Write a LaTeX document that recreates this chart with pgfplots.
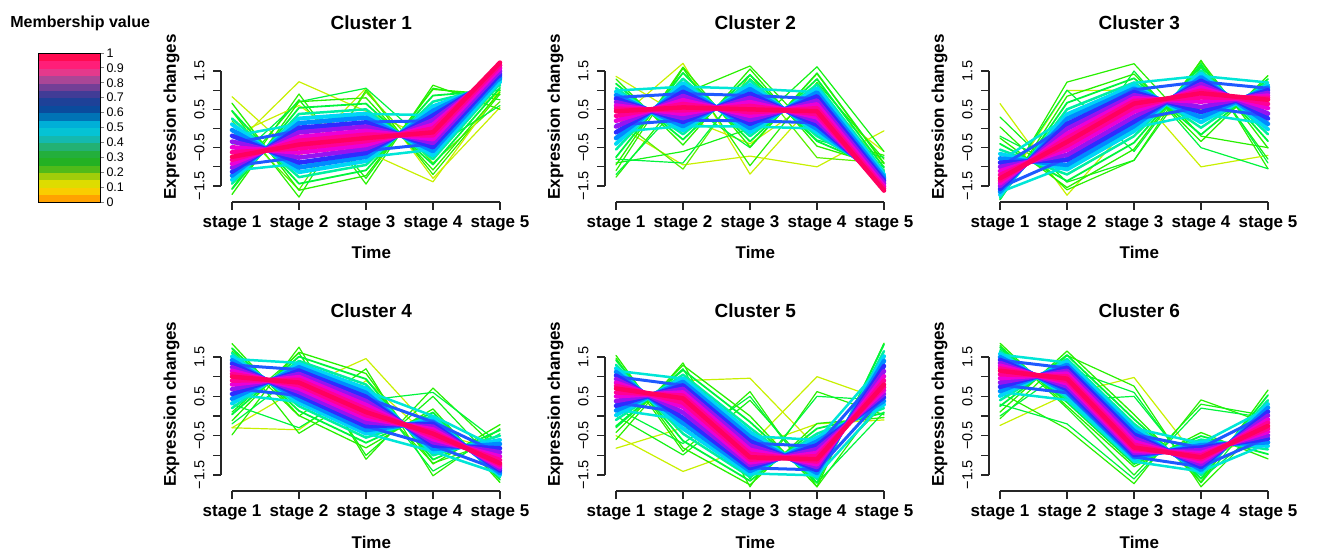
\documentclass[border=0pt]{standalone}
\usepackage{pgfplots}
\pgfplotsset{compat=1.18}
\usepackage{fontspec}
\setmainfont{Liberation Sans}

% line colours by membership
\definecolor{m100}{RGB}{255,0,95}
\definecolor{m95}{RGB}{255,0,150}
\definecolor{m88}{RGB}{235,0,215}
\definecolor{m78}{RGB}{150,20,240}
\definecolor{m65}{RGB}{45,45,255}
\definecolor{m60}{RGB}{30,90,255}
\definecolor{m55}{RGB}{0,140,255}
\definecolor{m45}{RGB}{0,215,245}
\definecolor{m42}{RGB}{0,230,215}
\definecolor{m38}{RGB}{0,240,160}
\definecolor{m30}{RGB}{0,245,60}
\definecolor{m28}{RGB}{20,242,20}
\definecolor{m25}{RGB}{40,240,0}
\definecolor{m22}{RGB}{90,240,0}
\definecolor{m12}{RGB}{200,240,0}

\pgfplotsset{
  every axis title shift=0pt,
  colormap={memb}{rgb255(0)=(255,140,0) rgb255(1)=(255,185,0) rgb255(2)=(245,225,0)
    rgb255(3)=(200,215,0) rgb255(4)=(120,195,20) rgb255(5)=(40,180,30) rgb255(6)=(30,175,40)
    rgb255(7)=(40,175,80) rgb255(8)=(30,180,150) rgb255(9)=(10,190,200) rgb255(10)=(0,200,225)
    rgb255(11)=(0,150,205) rgb255(12)=(0,80,160) rgb255(13)=(20,70,155) rgb255(14)=(40,60,150)
    rgb255(15)=(90,60,150) rgb255(16)=(140,65,150) rgb255(17)=(200,75,150) rgb255(18)=(255,40,130)
    rgb255(19)=(255,20,110) rgb255(20)=(255,0,50)},
  panel/.style={
    scale only axis, width=268pt,
    xmin=1, xmax=5, ymin=-1.5, ymax=1.5, clip=false,
    axis x line*=bottom, axis y line*=left,
    axis x line shift=16pt, axis y line shift=11pt,
    axis line style={line width=1.1pt, black!85},
    tick style={line width=1.1pt, black!85},
    tick align=outside, major tick length=8pt,
    xtick={1,2,3,4,5},
    xticklabels={stage 1,stage 2,stage 3,stage 4,stage 5},
    ytick={-1.5,-1,-0.5,0,0.5,1,1.5},
    yticklabels={−1.5,,−0.5,,0.5,,1.5},
    xticklabel style={font=\fontsize{17}{17}\selectfont\bfseries, yshift=-2pt},
    yticklabel style={font=\fontsize{14.5}{14.5}\selectfont, xshift=-5pt, rotate=90, anchor=south},
    xlabel={Time}, ylabel={Expression changes},
    label style={font=\fontsize{17}{17}\selectfont\bfseries},
    title style={font=\fontsize{19}{19}\selectfont\bfseries, anchor=center},
    ylabel style={at={(axis description cs:-0.226,0.6)}, anchor=center},
    no markers,
    every axis plot/.append style={line join=round, line cap=round},
  },
  toprow/.style={height=115pt,
    xlabel style={at={(axis description cs:0.52,-0.58)}, anchor=center},
    title style={at={(axis description cs:0.52,1.42)}}},
  botrow/.style={height=118pt,
    xlabel style={at={(axis description cs:0.52,-0.57)}, anchor=center},
    title style={at={(axis description cs:0.52,1.39)}}},
  q0/.style={draw=m100, line width=4.5pt},
  q12/.style={draw=m95, line width=4.5pt},
  q25/.style={draw=m88, line width=4.5pt},
  q40/.style={draw=m78, line width=4.5pt},
  q55/.style={draw=m65, line width=4.5pt},
  q70/.style={draw=m55, line width=4.5pt},
  q85/.style={draw=m45, line width=4pt},
  q100/.style={draw=m38, line width=2.5pt},
  g120/.style={draw=m30, line width=1.8pt},
  g140/.style={draw=m25, line width=1.3pt},
  v90/.style={draw=m42, line width=2.5pt},
  v60/.style={draw=m60, line width=3pt},
  o12/.style={draw=m12, line width=1.2pt},
  o22/.style={draw=m22, line width=1.2pt},
  o25/.style={draw=m25, line width=1.2pt},
  o28/.style={draw=m28, line width=1.2pt},
  o30/.style={draw=m30, line width=1.2pt},
}

\begin{document}
\begin{tikzpicture}[x=1pt,y=1pt]
\useasboundingbox (0,0) rectangle (1320,552);

% membership colour key
\begin{axis}[at={(38pt,350pt)}, anchor=south west, scale only axis,
  width=62pt, height=149pt, xmin=0, xmax=1, ymin=0, ymax=1, axis on top,
  colormap name=memb, point meta min=0, point meta max=1,
  xtick=\empty, ytick={0,0.1,0.2,0.3,0.4,0.5,0.6,0.7,0.8,0.9,1},
  yticklabels={0,0.1,0.2,0.3,0.4,0.5,0.6,0.7,0.8,0.9,1},
  ytick pos=right, yticklabel pos=right, tick align=outside, major tick length=4pt,
  axis line style={line width=0.8pt}, tick style={line width=0.8pt},
  yticklabel style={font=\fontsize{12.5}{12.5}\selectfont, xshift=-1pt},
  title={Membership value},
  title style={font=\fontsize{16}{16}\selectfont\bfseries, at={(axis description cs:0.68,1.2)}, anchor=center}]
\addplot[matrix plot*, mesh/cols=2, point meta=explicit] coordinates {
(0.25,0.025)[0.025] (0.75,0.025)[0.025]
(0.25,0.075)[0.075] (0.75,0.075)[0.075]
(0.25,0.125)[0.125] (0.75,0.125)[0.125]
(0.25,0.175)[0.175] (0.75,0.175)[0.175]
(0.25,0.225)[0.225] (0.75,0.225)[0.225]
(0.25,0.275)[0.275] (0.75,0.275)[0.275]
(0.25,0.325)[0.325] (0.75,0.325)[0.325]
(0.25,0.375)[0.375] (0.75,0.375)[0.375]
(0.25,0.425)[0.425] (0.75,0.425)[0.425]
(0.25,0.475)[0.475] (0.75,0.475)[0.475]
(0.25,0.525)[0.525] (0.75,0.525)[0.525]
(0.25,0.575)[0.575] (0.75,0.575)[0.575]
(0.25,0.625)[0.625] (0.75,0.625)[0.625]
(0.25,0.675)[0.675] (0.75,0.675)[0.675]
(0.25,0.725)[0.725] (0.75,0.725)[0.725]
(0.25,0.775)[0.775] (0.75,0.775)[0.775]
(0.25,0.825)[0.825] (0.75,0.825)[0.825]
(0.25,0.875)[0.875] (0.75,0.875)[0.875]
(0.25,0.925)[0.925] (0.75,0.925)[0.925]
(0.25,0.975)[0.975] (0.75,0.975)[0.975]
};
\end{axis}

% Cluster 1
\begin{axis}[panel, toprow, at={(232pt,366pt)}, anchor=south west, title={Cluster 1}]
\addplot[o12] coordinates {(1,0.83)(2,-0.75)(3,1.05)(4,-1.30)(5,0.55)};
\addplot[o12] coordinates {(1,-0.50)(2,1.22)(3,0.45)(4,-0.30)(5,0.95)};
\addplot[o25] coordinates {(1,0.45)(2,-1.79)(3,1.00)(4,-1.20)(5,0.90)};
\addplot[o25] coordinates {(1,-1.57)(2,0.90)(3,-1.45)(4,1.13)(5,0.50)};
\addplot[o22] coordinates {(1,0.20)(2,-1.60)(3,0.95)(4,-0.90)(5,0.70)};
\addplot[o28] coordinates {(1,-1.30)(2,0.75)(3,-1.30)(4,1.05)(5,0.75)};
\addplot[o12] coordinates {(1,-0.20)(2,0.60)(3,-0.60)(4,-1.39)(5,1.00)};
\addplot[o30] coordinates {(1,-0.90)(2,0.70)(3,1.05)(4,-0.50)(5,0.60)};
\addplot[g140] coordinates {(1,0.66)(2,-1.61)(3,-1.23)(4,1.02)(5,0.88)};
\addplot[g140] coordinates {(1,-1.72)(2,0.70)(3,0.80)(4,-1.08)(5,0.95)};
\addplot[g120] coordinates {(1,0.46)(2,-1.44)(3,-1.09)(4,0.86)(5,1.00)};
\addplot[g120] coordinates {(1,-1.58)(2,0.54)(3,0.65)(4,-0.94)(5,1.06)};
\addplot[q100] coordinates {(1,0.26)(2,-1.27)(3,-0.95)(4,0.70)(5,1.12)};
\addplot[q100] coordinates {(1,-1.44)(2,0.38)(3,0.50)(4,-0.80)(5,1.17)};
\addplot[v90] coordinates {(1,-0.20)(2,0.12)(3,0.38)(4,0.35)(5,1.36)};
\addplot[v90] coordinates {(1,-1.10)(2,-0.92)(3,-0.75)(4,-0.55)(5,1.45)};
\addplot[q85] coordinates {(1,0.11)(2,-1.14)(3,-0.85)(4,0.58)(5,1.21)};
\addplot[q85] coordinates {(1,-1.34)(2,0.26)(3,0.39)(4,-0.70)(5,1.25)};
\addplot[q70] coordinates {(1,-0.04)(2,-1.02)(3,-0.74)(4,0.46)(5,1.30)};
\addplot[q70] coordinates {(1,-1.23)(2,0.14)(3,0.28)(4,-0.59)(5,1.34)};
\addplot[v60] coordinates {(1,-0.38)(2,-0.06)(3,0.17)(4,0.20)(5,1.48)};
\addplot[v60] coordinates {(1,-0.98)(2,-0.75)(3,-0.58)(4,-0.40)(5,1.54)};
\addplot[q55] coordinates {(1,-0.19)(2,-0.89)(3,-0.64)(4,0.34)(5,1.39)};
\addplot[q55] coordinates {(1,-1.13)(2,0.02)(3,0.16)(4,-0.49)(5,1.42)};
\addplot[q40] coordinates {(1,-0.34)(2,-0.76)(3,-0.53)(4,0.22)(5,1.48)};
\addplot[q40] coordinates {(1,-1.02)(2,-0.10)(3,0.05)(4,-0.38)(5,1.50)};
\addplot[q25] coordinates {(1,-0.49)(2,-0.63)(3,-0.43)(4,0.10)(5,1.57)};
\addplot[q25] coordinates {(1,-0.92)(2,-0.22)(3,-0.06)(4,-0.28)(5,1.58)};
\addplot[q12] coordinates {(1,-0.62)(2,-0.52)(3,-0.33)(4,0.00)(5,1.65)};
\addplot[q12] coordinates {(1,-0.82)(2,-0.32)(3,-0.16)(4,-0.18)(5,1.65)};
\addplot[q0] coordinates {(1,-0.74)(2,-0.42)(3,-0.25)(4,-0.10)(5,1.72)};
\end{axis}

% Cluster 2
\begin{axis}[panel, toprow, at={(616pt,366pt)}, anchor=south west, title={Cluster 2}]
\addplot[o12] coordinates {(1,1.36)(2,0.30)(3,-0.40)(4,0.80)(5,-0.90)};
\addplot[o12] coordinates {(1,0.20)(2,1.70)(3,-1.19)(4,0.75)(5,-0.60)};
\addplot[o12] coordinates {(1,0.10)(2,-0.95)(3,-0.72)(4,-1.00)(5,-0.06)};
\addplot[o25] coordinates {(1,-1.27)(2,0.90)(3,1.63)(4,-0.20)(5,-0.70)};
\addplot[o25] coordinates {(1,-1.10)(2,1.57)(3,-0.97)(4,1.20)(5,-0.80)};
\addplot[o22] coordinates {(1,0.30)(2,-1.06)(3,1.40)(4,-0.76)(5,-0.90)};
\addplot[o28] coordinates {(1,-0.90)(2,-0.60)(3,0.00)(4,1.61)(5,-0.60)};
\addplot[o30] coordinates {(1,-1.20)(2,0.70)(3,-0.50)(4,1.45)(5,-0.90)};
\addplot[o30] coordinates {(1,-0.80)(2,-0.90)(3,1.30)(4,-0.30)(5,-0.75)};
\addplot[g140] coordinates {(1,1.29)(2,-0.43)(3,1.55)(4,-0.46)(5,-0.99)};
\addplot[g140] coordinates {(1,-0.95)(2,1.60)(3,-0.48)(4,1.43)(5,-0.92)};
\addplot[g120] coordinates {(1,1.17)(2,-0.29)(3,1.40)(4,-0.33)(5,-1.08)};
\addplot[g120] coordinates {(1,-0.75)(2,1.45)(3,-0.34)(4,1.29)(5,-1.02)};
\addplot[q100] coordinates {(1,1.05)(2,-0.15)(3,1.25)(4,-0.20)(5,-1.17)};
\addplot[q100] coordinates {(1,-0.55)(2,1.30)(3,-0.20)(4,1.15)(5,-1.12)};
\addplot[v90] coordinates {(1,0.99)(2,1.09)(3,1.04)(4,0.95)(5,-1.35)};
\addplot[v90] coordinates {(1,-0.09)(2,0.06)(3,0.05)(4,0.00)(5,-1.17)};
\addplot[q85] coordinates {(1,0.96)(2,-0.05)(3,1.14)(4,-0.10)(5,-1.24)};
\addplot[q85] coordinates {(1,-0.40)(2,1.19)(3,-0.10)(4,1.05)(5,-1.20)};
\addplot[q70] coordinates {(1,0.87)(2,0.06)(3,1.03)(4,-0.01)(5,-1.31)};
\addplot[q70] coordinates {(1,-0.25)(2,1.08)(3,0.01)(4,0.94)(5,-1.27)};
\addplot[v60] coordinates {(1,0.81)(2,0.91)(3,0.86)(4,0.78)(5,-1.44)};
\addplot[v60] coordinates {(1,0.09)(2,0.22)(3,0.20)(4,0.15)(5,-1.32)};
\addplot[q55] coordinates {(1,0.78)(2,0.17)(3,0.91)(4,0.09)(5,-1.37)};
\addplot[q55] coordinates {(1,-0.10)(2,0.96)(3,0.12)(4,0.84)(5,-1.35)};
\addplot[q40] coordinates {(1,0.69)(2,0.27)(3,0.80)(4,0.19)(5,-1.44)};
\addplot[q40] coordinates {(1,0.05)(2,0.85)(3,0.22)(4,0.73)(5,-1.42)};
\addplot[q25] coordinates {(1,0.60)(2,0.38)(3,0.69)(4,0.29)(5,-1.51)};
\addplot[q25] coordinates {(1,0.20)(2,0.74)(3,0.33)(4,0.63)(5,-1.50)};
\addplot[q12] coordinates {(1,0.52)(2,0.47)(3,0.59)(4,0.37)(5,-1.57)};
\addplot[q12] coordinates {(1,0.33)(2,0.64)(3,0.42)(4,0.53)(5,-1.56)};
\addplot[q0] coordinates {(1,0.45)(2,0.55)(3,0.50)(4,0.45)(5,-1.62)};
\end{axis}

% Cluster 3
\begin{axis}[panel, toprow, at={(1000pt,366pt)}, anchor=south west, title={Cluster 3}]
\addplot[o12] coordinates {(1,0.65)(2,-1.74)(3,0.20)(4,0.50)(5,0.90)};
\addplot[o25] coordinates {(1,0.04)(2,-1.60)(3,-0.83)(4,1.78)(5,-1.05)};
\addplot[o25] coordinates {(1,-1.75)(2,1.21)(3,1.69)(4,-0.20)(5,-0.50)};
\addplot[o12] coordinates {(1,-1.70)(2,0.99)(3,1.00)(4,-1.00)(5,-0.70)};
\addplot[o28] coordinates {(1,0.30)(2,-1.40)(3,-0.83)(4,1.60)(5,-0.80)};
\addplot[o30] coordinates {(1,-0.20)(2,-1.10)(3,1.50)(4,-0.50)(5,-1.05)};
\addplot[o30] coordinates {(1,-1.60)(2,1.00)(3,-0.60)(4,1.70)(5,-0.90)};
\addplot[g140] coordinates {(1,-0.25)(2,-1.54)(3,-0.54)(4,1.76)(5,-0.51)};
\addplot[g140] coordinates {(1,-1.85)(2,0.84)(3,1.42)(4,-0.34)(5,1.38)};
\addplot[g120] coordinates {(1,-0.40)(2,-1.37)(3,-0.37)(4,1.64)(5,-0.33)};
\addplot[g120] coordinates {(1,-1.85)(2,0.67)(3,1.31)(4,-0.16)(5,1.29)};
\addplot[q100] coordinates {(1,-0.55)(2,-1.20)(3,-0.20)(4,1.52)(5,-0.15)};
\addplot[q100] coordinates {(1,-1.80)(2,0.50)(3,1.20)(4,0.02)(5,1.20)};
\addplot[v90] coordinates {(1,-0.85)(2,0.28)(3,1.19)(4,1.37)(5,1.20)};
\addplot[v90] coordinates {(1,-1.66)(2,-0.98)(3,0.02)(4,0.38)(5,0.12)};
\addplot[q85] coordinates {(1,-0.66)(2,-1.07)(3,-0.07)(4,1.43)(5,-0.02)};
\addplot[q85] coordinates {(1,-1.73)(2,0.37)(3,1.12)(4,0.16)(5,1.13)};
\addplot[q70] coordinates {(1,-0.78)(2,-0.95)(3,0.06)(4,1.34)(5,0.12)};
\addplot[q70] coordinates {(1,-1.65)(2,0.25)(3,1.04)(4,0.29)(5,1.07)};
\addplot[v60] coordinates {(1,-1.00)(2,0.07)(3,1.01)(4,1.22)(5,1.05)};
\addplot[v60] coordinates {(1,-1.54)(2,-0.77)(3,0.23)(4,0.56)(5,0.33)};
\addplot[q55] coordinates {(1,-0.89)(2,-0.82)(3,0.18)(4,1.25)(5,0.26)};
\addplot[q55] coordinates {(1,-1.58)(2,0.12)(3,0.95)(4,0.43)(5,1.00)};
\addplot[q40] coordinates {(1,-1.00)(2,-0.69)(3,0.31)(4,1.16)(5,0.39)};
\addplot[q40] coordinates {(1,-1.50)(2,-0.01)(3,0.87)(4,0.56)(5,0.93)};
\addplot[q25] coordinates {(1,-1.11)(2,-0.56)(3,0.44)(4,1.07)(5,0.53)};
\addplot[q25] coordinates {(1,-1.43)(2,-0.14)(3,0.79)(4,0.70)(5,0.86)};
\addplot[q12] coordinates {(1,-1.21)(2,-0.45)(3,0.55)(4,0.99)(5,0.64)};
\addplot[q12] coordinates {(1,-1.36)(2,-0.25)(3,0.72)(4,0.81)(5,0.80)};
\addplot[q0] coordinates {(1,-1.30)(2,-0.35)(3,0.65)(4,0.92)(5,0.75)};
\end{axis}

% Cluster 4
\begin{axis}[panel, botrow, at={(232pt,77pt)}, anchor=south west, title={Cluster 4}]
\addplot[o12] coordinates {(1,-0.30)(2,0.70)(3,1.46)(4,-0.40)(5,-0.90)};
\addplot[o12] coordinates {(1,-0.30)(2,-0.35)(3,0.90)(4,-0.60)(5,-1.00)};
\addplot[o25] coordinates {(1,1.72)(2,-0.44)(3,0.60)(4,-1.20)(5,-0.60)};
\addplot[o25] coordinates {(1,-0.48)(2,1.75)(3,-1.10)(4,0.71)(5,-0.90)};
\addplot[o28] coordinates {(1,0.10)(2,1.60)(3,-1.00)(4,0.50)(5,-1.30)};
\addplot[o25] coordinates {(1,1.65)(2,0.00)(3,1.20)(4,-1.52)(5,-0.32)};
\addplot[o30] coordinates {(1,0.30)(2,-0.30)(3,0.75)(4,-1.40)(5,-0.45)};
\addplot[o30] coordinates {(1,-0.20)(2,1.10)(3,0.40)(4,0.60)(5,-0.70)};
\addplot[g140] coordinates {(1,1.84)(2,0.01)(3,-0.81)(4,0.18)(5,-1.69)};
\addplot[g140] coordinates {(1,-0.12)(2,1.62)(3,1.08)(4,-1.22)(5,-0.22)};
\addplot[g120] coordinates {(1,1.72)(2,0.13)(3,-0.68)(4,0.09)(5,-1.62)};
\addplot[g120] coordinates {(1,0.04)(2,1.51)(3,0.94)(4,-1.11)(5,-0.36)};
\addplot[q100] coordinates {(1,1.60)(2,0.25)(3,-0.55)(4,0.00)(5,-1.55)};
\addplot[q100] coordinates {(1,0.20)(2,1.40)(3,0.80)(4,-1.00)(5,-0.50)};
\addplot[v90] coordinates {(1,1.45)(2,1.35)(3,0.64)(4,0.00)(5,-0.84)};
\addplot[v90] coordinates {(1,0.55)(2,0.36)(3,-0.44)(4,-0.90)(5,-1.47)};
\addplot[q85] coordinates {(1,1.51)(2,0.34)(3,-0.45)(4,-0.07)(5,-1.50)};
\addplot[q85] coordinates {(1,0.32)(2,1.32)(3,0.70)(4,-0.92)(5,-0.61)};
\addplot[q70] coordinates {(1,1.42)(2,0.43)(3,-0.36)(4,-0.14)(5,-1.45)};
\addplot[q70] coordinates {(1,0.44)(2,1.24)(3,0.59)(4,-0.84)(5,-0.71)};
\addplot[v60] coordinates {(1,1.30)(2,1.18)(3,0.46)(4,-0.15)(5,-0.96)};
\addplot[v60] coordinates {(1,0.70)(2,0.52)(3,-0.26)(4,-0.75)(5,-1.38)};
\addplot[q55] coordinates {(1,1.33)(2,0.52)(3,-0.26)(4,-0.20)(5,-1.39)};
\addplot[q55] coordinates {(1,0.56)(2,1.15)(3,0.49)(4,-0.75)(5,-0.82)};
\addplot[q40] coordinates {(1,1.24)(2,0.61)(3,-0.16)(4,-0.27)(5,-1.34)};
\addplot[q40] coordinates {(1,0.68)(2,1.07)(3,0.38)(4,-0.67)(5,-0.92)};
\addplot[q25] coordinates {(1,1.15)(2,0.70)(3,-0.06)(4,-0.34)(5,-1.29)};
\addplot[q25] coordinates {(1,0.80)(2,0.99)(3,0.28)(4,-0.59)(5,-1.03)};
\addplot[q12] coordinates {(1,1.07)(2,0.78)(3,0.02)(4,-0.40)(5,-1.24)};
\addplot[q12] coordinates {(1,0.90)(2,0.92)(3,0.18)(4,-0.52)(5,-1.12)};
\addplot[q0] coordinates {(1,1.00)(2,0.85)(3,0.10)(4,-0.45)(5,-1.20)};
\end{axis}

% Cluster 5
\begin{axis}[panel, botrow, at={(616pt,77pt)}, anchor=south west, title={Cluster 5}]
\addplot[o12] coordinates {(1,0.20)(2,0.90)(3,0.96)(4,-0.80)(5,0.60)};
\addplot[o12] coordinates {(1,-0.82)(2,-0.30)(3,-0.75)(4,1.00)(5,0.40)};
\addplot[o12] coordinates {(1,-0.50)(2,-1.41)(3,-0.80)(4,-0.20)(5,-0.10)};
\addplot[o25] coordinates {(1,1.47)(2,-0.90)(3,0.62)(4,-1.80)(5,0.50)};
\addplot[o25] coordinates {(1,-0.60)(2,1.35)(3,-1.80)(4,0.62)(5,0.03)};
\addplot[o28] coordinates {(1,0.00)(2,-0.99)(3,0.40)(4,-1.50)(5,0.30)};
\addplot[o30] coordinates {(1,-0.30)(2,1.20)(3,-1.60)(4,0.50)(5,0.40)};
\addplot[o30] coordinates {(1,0.20)(2,-0.70)(3,0.50)(4,-1.70)(5,0.10)};
\addplot[g140] coordinates {(1,-0.42)(2,1.29)(3,0.00)(4,-1.80)(5,1.85)};
\addplot[g140] coordinates {(1,1.54)(2,-0.81)(3,-1.75)(4,-0.19)(5,-0.04)};
\addplot[g120] coordinates {(1,-0.26)(2,1.17)(3,-0.15)(4,-1.70)(5,1.82)};
\addplot[g120] coordinates {(1,1.42)(2,-0.63)(3,-1.65)(4,-0.32)(5,0.08)};
\addplot[q100] coordinates {(1,-0.10)(2,1.05)(3,-0.30)(4,-1.60)(5,1.65)};
\addplot[q100] coordinates {(1,1.30)(2,-0.45)(3,-1.55)(4,-0.45)(5,0.20)};
\addplot[v90] coordinates {(1,1.15)(2,0.95)(3,-0.51)(4,-0.61)(5,1.34)};
\addplot[v90] coordinates {(1,0.16)(2,-0.09)(3,-1.46)(4,-1.51)(5,0.35)};
\addplot[q85] coordinates {(1,0.02)(2,0.96)(3,-0.41)(4,-1.53)(5,1.52)};
\addplot[q85] coordinates {(1,1.21)(2,-0.32)(3,-1.48)(4,-0.55)(5,0.29)};
\addplot[q70] coordinates {(1,0.14)(2,0.87)(3,-0.53)(4,-1.45)(5,1.40)};
\addplot[q70] coordinates {(1,1.12)(2,-0.18)(3,-1.40)(4,-0.65)(5,0.38)};
\addplot[v60] coordinates {(1,1.00)(2,0.78)(3,-0.69)(4,-0.77)(5,1.16)};
\addplot[v60] coordinates {(1,0.34)(2,0.09)(3,-1.32)(4,-1.37)(5,0.50)};
\addplot[q55] coordinates {(1,0.26)(2,0.78)(3,-0.64)(4,-1.38)(5,1.27)};
\addplot[q55] coordinates {(1,1.03)(2,-0.05)(3,-1.33)(4,-0.74)(5,0.47)};
\addplot[q40] coordinates {(1,0.38)(2,0.69)(3,-0.75)(4,-1.30)(5,1.14)};
\addplot[q40] coordinates {(1,0.94)(2,0.09)(3,-1.25)(4,-0.84)(5,0.56)};
\addplot[q25] coordinates {(1,0.50)(2,0.60)(3,-0.86)(4,-1.23)(5,1.01)};
\addplot[q25] coordinates {(1,0.85)(2,0.23)(3,-1.18)(4,-0.94)(5,0.65)};
\addplot[q12] coordinates {(1,0.60)(2,0.52)(3,-0.96)(4,-1.16)(5,0.90)};
\addplot[q12] coordinates {(1,0.77)(2,0.34)(3,-1.11)(4,-1.02)(5,0.73)};
\addplot[q0] coordinates {(1,0.70)(2,0.45)(3,-1.05)(4,-1.10)(5,0.80)};
\end{axis}

% Cluster 6
\begin{axis}[panel, botrow, at={(1000pt,77pt)}, anchor=south west, title={Cluster 6}]
\addplot[o12] coordinates {(1,-0.24)(2,0.55)(3,0.98)(4,-1.20)(5,-0.30)};
\addplot[o25] coordinates {(1,0.60)(2,-0.33)(3,-1.72)(4,0.41)(5,-0.20)};
\addplot[o25] coordinates {(1,-0.07)(2,1.54)(3,0.76)(4,-1.80)(5,-0.10)};
\addplot[o28] coordinates {(1,1.79)(2,0.20)(3,-1.50)(4,0.30)(5,0.00)};
\addplot[o30] coordinates {(1,0.00)(2,1.20)(3,0.60)(4,-1.70)(5,0.35)};
\addplot[o30] coordinates {(1,0.30)(2,-0.20)(3,-1.60)(4,0.20)(5,-0.05)};
\addplot[o30] coordinates {(1,1.70)(2,0.40)(3,0.50)(4,-1.60)(5,-0.20)};
\addplot[g140] coordinates {(1,1.85)(2,0.25)(3,-1.29)(4,-0.42)(5,-1.09)};
\addplot[g140] coordinates {(1,0.10)(2,1.65)(3,0.04)(4,-1.68)(5,0.66)};
\addplot[g120] coordinates {(1,1.75)(2,0.35)(3,-1.22)(4,-0.51)(5,-0.97)};
\addplot[g120] coordinates {(1,0.25)(2,1.55)(3,-0.08)(4,-1.59)(5,0.53)};
\addplot[q100] coordinates {(1,1.65)(2,0.45)(3,-1.15)(4,-0.60)(5,-0.85)};
\addplot[q100] coordinates {(1,0.40)(2,1.45)(3,-0.20)(4,-1.50)(5,0.40)};
\addplot[v90] coordinates {(1,1.56)(2,1.36)(3,-0.31)(4,-0.69)(5,0.20)};
\addplot[v90] coordinates {(1,0.61)(2,0.41)(3,-1.16)(4,-1.41)(5,-0.70)};
\addplot[q85] coordinates {(1,1.58)(2,0.53)(3,-1.10)(4,-0.67)(5,-0.76)};
\addplot[q85] coordinates {(1,0.51)(2,1.38)(3,-0.29)(4,-1.43)(5,0.30)};
\addplot[q70] coordinates {(1,1.50)(2,0.60)(3,-1.05)(4,-0.74)(5,-0.67)};
\addplot[q70] coordinates {(1,0.63)(2,1.30)(3,-0.38)(4,-1.37)(5,0.21)};
\addplot[v60] coordinates {(1,1.42)(2,1.22)(3,-0.47)(4,-0.81)(5,0.05)};
\addplot[v60] coordinates {(1,0.79)(2,0.59)(3,-1.04)(4,-1.29)(5,-0.55)};
\addplot[q55] coordinates {(1,1.43)(2,0.68)(3,-0.99)(4,-0.80)(5,-0.58)};
\addplot[q55] coordinates {(1,0.74)(2,1.23)(3,-0.47)(4,-1.30)(5,0.11)};
\addplot[q40] coordinates {(1,1.35)(2,0.75)(3,-0.94)(4,-0.87)(5,-0.49)};
\addplot[q40] coordinates {(1,0.85)(2,1.15)(3,-0.56)(4,-1.23)(5,0.01)};
\addplot[q25] coordinates {(1,1.28)(2,0.83)(3,-0.89)(4,-0.94)(5,-0.40)};
\addplot[q25] coordinates {(1,0.96)(2,1.08)(3,-0.65)(4,-1.16)(5,-0.09)};
\addplot[q12] coordinates {(1,1.21)(2,0.89)(3,-0.84)(4,-1.00)(5,-0.32)};
\addplot[q12] coordinates {(1,1.06)(2,1.01)(3,-0.73)(4,-1.10)(5,-0.17)};
\addplot[q0] coordinates {(1,1.15)(2,0.95)(3,-0.80)(4,-1.05)(5,-0.25)};
\end{axis}
\end{tikzpicture}
\end{document}
